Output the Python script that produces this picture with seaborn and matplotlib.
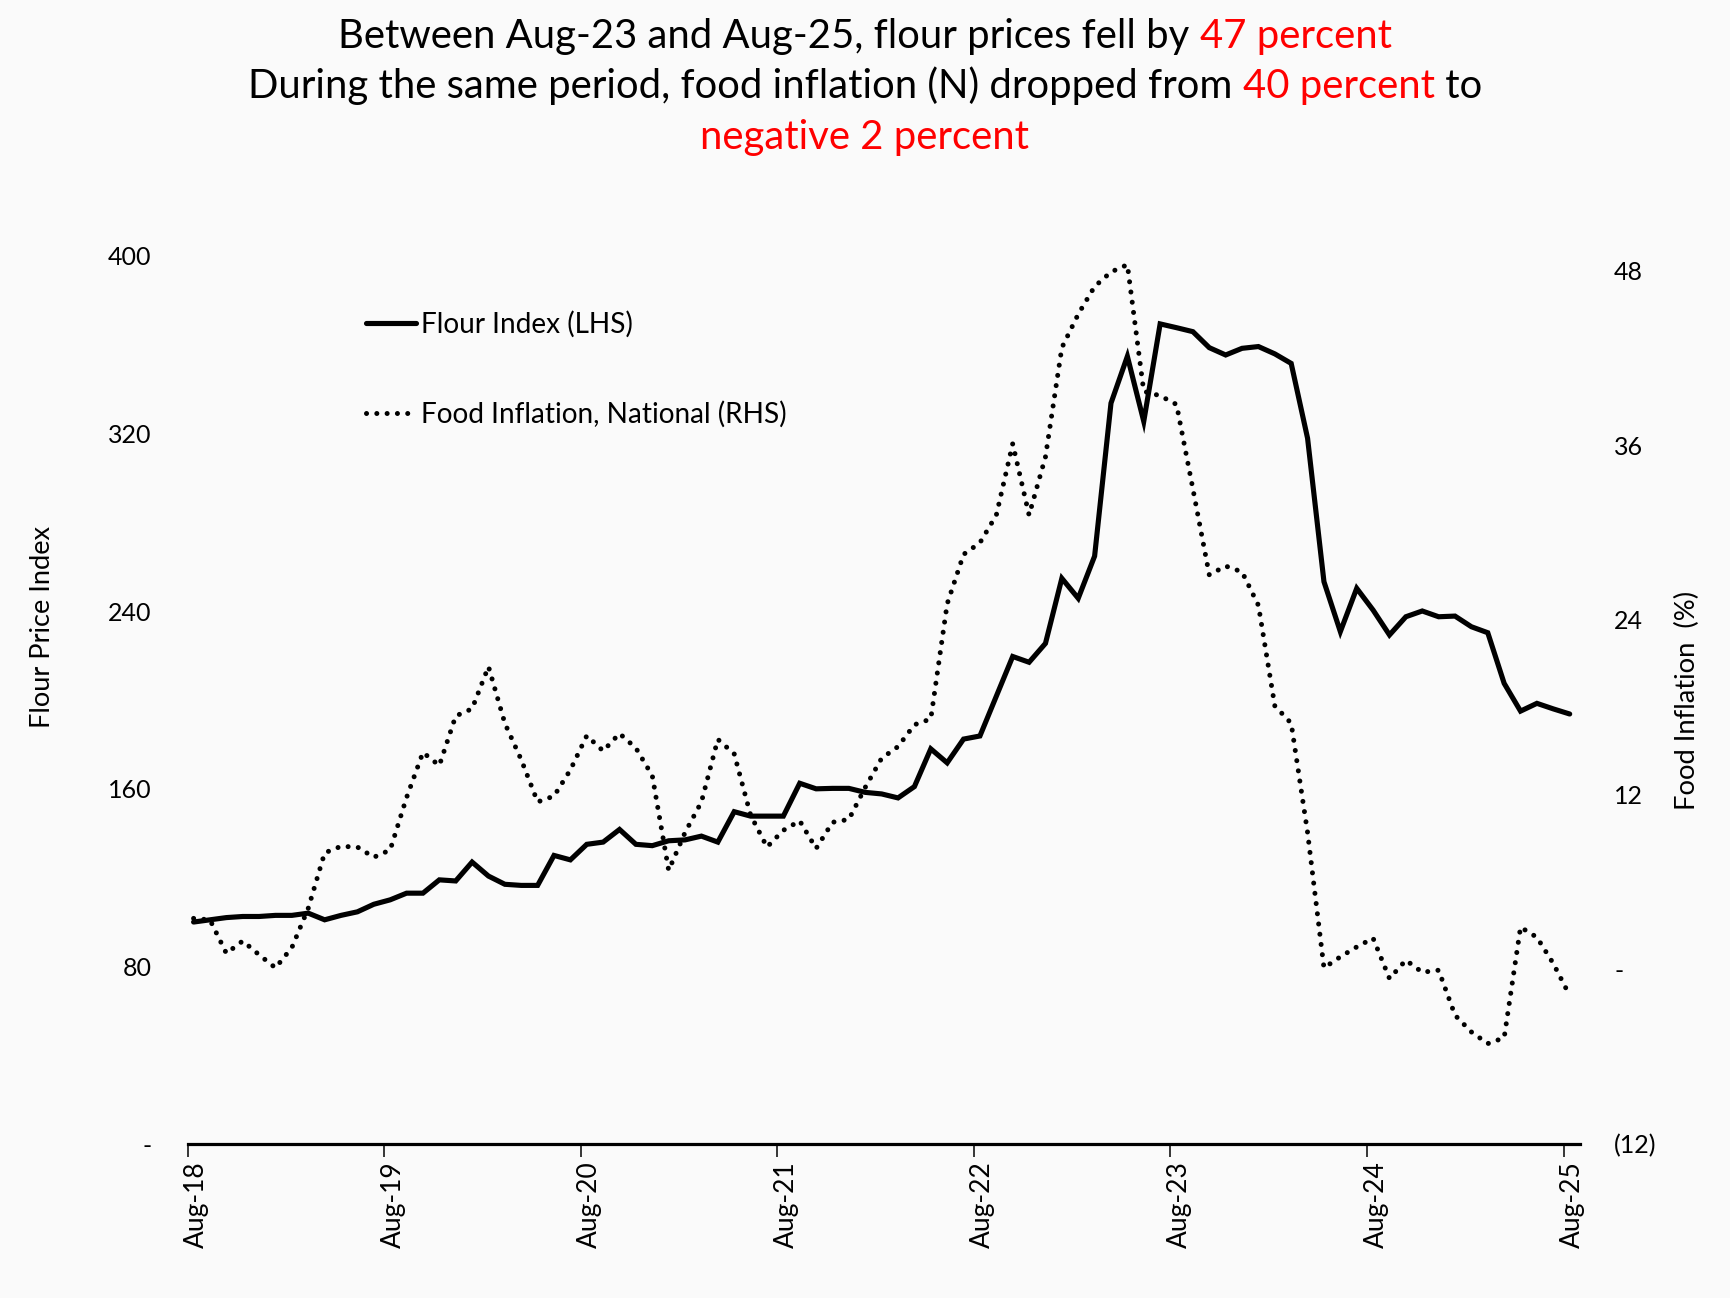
import numpy as np
import pandas as pd
import seaborn as sns
import matplotlib.pyplot as plt
from matplotlib.transforms import ScaledTranslation

# ---------------- data ----------------
tick_labels = ["Aug-18", "Aug-19", "Aug-20", "Aug-21", "Aug-22", "Aug-23", "Aug-24", "Aug-25"]

flour_index = [
    100, 101, 102, 102.5, 102.5, 103, 103, 104, 101, 103,
    104.6, 108, 110, 113, 113, 119, 118.5, 127, 120.7, 117,
    116.5, 116.5, 130, 128, 135, 136, 141.7, 135, 134.4, 136.6,
    137, 138.7, 136, 149.7, 147.7, 147.7, 147.7, 162.5, 160, 160.2,
    160.2, 158.4, 157.7, 155.9, 161, 178, 171.7, 182.4, 183.8, 201.7,
    219.6, 217, 225.5, 254.8, 245.8, 264.8, 333.7, 354.8, 325.5, 369.4,
    367.7, 365.9, 358.7, 355.4, 358.4, 359.2, 355.9, 351.6, 317.9, 253.3,
    230.8, 250.3, 240.5, 229.3, 237.5, 240.1, 237.5, 237.8, 233, 230.3,
    207.5, 195, 198.5, 196, 193.7,
]

food_inflation = [
    3.5, 3.4, 1.1, 1.95, 1.0, 0.1, 1.5, 4.2, 8.0, 8.45,
    8.4, 7.7, 8.2, 11.8, 14.9, 14.0, 17.4, 17.9, 20.8, 16.9,
    14.4, 11.5, 11.9, 13.7, 16.05, 15.0, 16.2, 15.2, 13.3, 6.8,
    9.4, 11.5, 15.8, 14.8, 10.6, 8.4, 9.55, 10.2, 8.3, 10.1,
    10.3, 12.5, 14.5, 15.3, 16.8, 17.2, 25.1, 28.5, 29.3, 31.2,
    36.1, 31.2, 35.2, 42.7, 45.0, 46.9, 47.9, 48.4, 39.7, 39.4,
    38.8, 33.0, 27.1, 27.7, 27.3, 25.0, 18.1, 16.9, 9.4, 0.1,
    0.86, 1.54, 2.14, -0.63, 0.63, -0.2, -0.06, -3.15, -4.3, -5.1,
    -4.7, 2.9, 2.2, 0.4, -1.8,
]

left_ticks = [0, 80, 160, 240, 320, 400]
left_tick_labels = ["-", "80", "160", "240", "320", "400"]
right_ticks = [-12, 0, 12, 24, 36, 48]
right_tick_labels = ["(12)", "-", "12", "24", "36", "48"]

series_labels = ["Flour Index (LHS)", "Food Inflation, National (RHS)"]

# ---------------- style ----------------
sns.set_theme(style="white")
plt.rcParams["font.family"] = ["Lato", "DejaVu Sans"]
plt.rcParams["text.color"] = "black"
plt.rcParams["xtick.color"] = "black"
plt.rcParams["ytick.color"] = "black"

BG = "#fafafa"
RED = "#ff0000"

fig = plt.figure(figsize=(17.3, 12.98), dpi=100, facecolor=BG)
ax = fig.add_axes([0.1084, 0.1186, 0.8049, 0.6842])
ax.set_facecolor(BG)
ax2 = ax.twinx()
ax2.patch.set_visible(False)

n = len(flour_index)
df = pd.DataFrame({
    "month": np.arange(n) + 0.37,
    "flour": flour_index,
    "food": food_inflation,
})

sns.lineplot(data=df, x="month", y="flour", ax=ax, color="black", lw=3.7,
             solid_joinstyle="miter")
sns.lineplot(data=df, x="month", y="food", ax=ax2, color="black", lw=3.6,
             linestyle=(0, (0.01, 2.05)), dash_capstyle="round")

# axes limits / ticks
ax.set_xlim(0, 85)
ax.set_ylim(0, 400)
ax2.set_ylim(-12, 49)

ax.set_xticks(np.arange(len(tick_labels)) * 12)
ax.set_xticklabels(tick_labels, rotation=90)
ax.set_yticks(left_ticks)
ax.set_yticklabels(left_tick_labels)
ax2.set_yticks(right_ticks)
ax2.set_yticklabels(right_tick_labels)

ax.set_xlabel("")
ax.set_ylabel("")
ax2.set_ylabel("")

ax.tick_params(axis="x", bottom=True, length=9.4, width=1.1, direction="out",
               pad=3, labelsize=19, color="black")
ax.tick_params(axis="y", left=False, length=0, pad=26, labelsize=18)
ax2.tick_params(axis="y", right=False, length=0, pad=24.5, labelsize=18,
                labelright=True)

for lab in ax.get_xticklabels():
    lab.set_transform(lab.get_transform() + ScaledTranslation(0.09, 0, fig.dpi_scale_trans))

for s in ["left", "right", "top"]:
    ax.spines[s].set_visible(False)
ax.spines["bottom"].set_color("black")
ax.spines["bottom"].set_linewidth(2.3)
for s in ax2.spines.values():
    s.set_visible(False)

# legend
handles = [ax.lines[0], ax2.lines[0]]
leg = ax2.legend(handles, series_labels, loc="upper left",
                 bbox_to_anchor=(0.2115, 0.7606), bbox_transform=fig.transFigure,
                 frameon=False, fontsize=20.2, handlelength=1.78, handletextpad=0.17,
                 labelspacing=2.26, borderpad=0, borderaxespad=0)

# axis titles
fig.text(0.0243, 0.517, "Flour Price Index", rotation=90, ha="center", va="center",
         fontsize=19.6, color="black")
fig.text(0.9757, 0.46, "Food Inflation  (%)", rotation=90, ha="center", va="center",
         fontsize=19.7, color="black")

# multi-coloured title
title_lines = [
    [("Between Aug-23 and Aug-25, flour prices fell by ", "black"), ("47 percent", RED)],
    [("During the same period, food inflation (N) dropped from ", "black"),
     ("40 percent", RED), (" to", "black")],
    [("negative 2 percent", RED)],
]
baselines = [0.9634, 0.9245, 0.8852]
TFS = 28.8
fig.canvas.draw()
renderer = fig.canvas.get_renderer()
W = fig.bbox.width


def text_width(s):
    t = fig.text(0, 0, s + "|", fontsize=TFS)
    w1 = t.get_window_extent(renderer).width
    t.remove()
    t = fig.text(0, 0, "|", fontsize=TFS)
    w2 = t.get_window_extent(renderer).width
    t.remove()
    return w1 - w2


for pieces, yb in zip(title_lines, baselines):
    full = "".join(p for p, _ in pieces)
    total = text_width(full)
    x0 = 0.5 * W - total / 2
    prefix = ""
    for s, c in pieces:
        off = text_width(prefix) if prefix else 0.0
        fig.text((x0 + off) / W, yb, s, fontsize=TFS,
                 color=c, ha="left", va="baseline")
        prefix += s

fig.savefig("out.png", dpi=100, facecolor=BG)
